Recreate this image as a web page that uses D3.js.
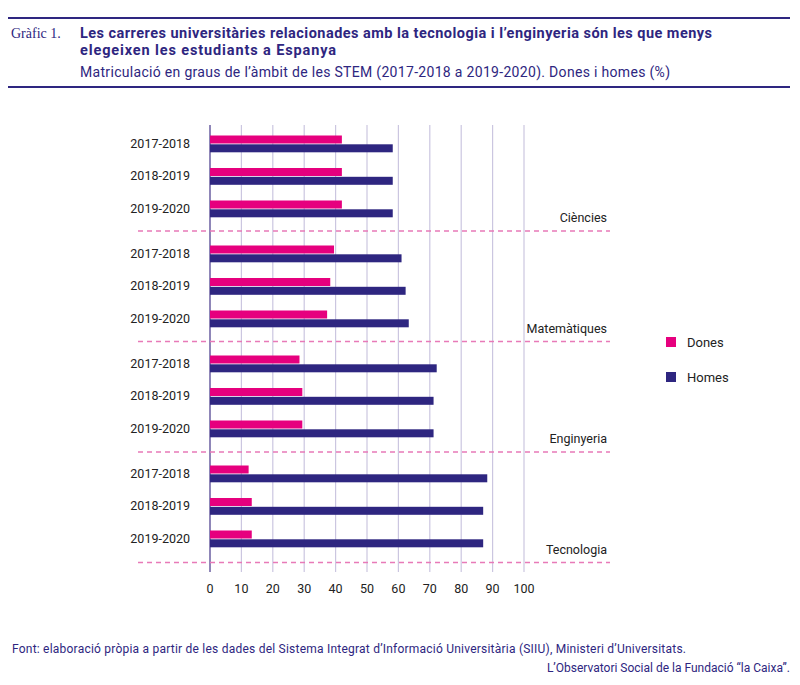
<!DOCTYPE html><html><head><meta charset="utf-8"><script src="https://d3js.org/d3.v7.min.js"></script>
<style>body{margin:0;background:#fff}</style></head><body><svg width="800" height="685"></svg>
<script>
const groups=["Ciències","Matemàtiques","Enginyeria","Tecnologia"];
const years=["2017-2018","2018-2019","2019-2020"];
const dones=[[42,42,42],[39.5,38.3,37.3],[28.5,29.4,29.4],[12.3,13.3,13.3]];
const homes=[[58.2,58.2,58.2],[61,62.3,63.3],[72.2,71.2,71.2],[88.3,87,87]];
const ticks=[0,10,20,30,40,50,60,70,80,90,100];
const purple="#2e2680",pink="#e6007e";
const svg=d3.select("svg");
const x=d3.scaleLinear().domain([0,100]).range([210,524]);
const F="Roboto,sans-serif";
svg.append("rect").attr("x",8).attr("y",17).attr("width",782).attr("height",2).attr("fill",purple);
svg.append("rect").attr("x",8).attr("y",86).attr("width",782).attr("height",2).attr("fill",purple);
svg.append("text").attr("x",11).attr("y",38).attr("font-family","Liberation Serif,serif").attr("font-size",14).attr("fill",purple).text("Gràfic 1.");
svg.append("text").attr("x",80).attr("y",38).attr("font-size",14.5).attr("font-weight","bold").attr("fill",purple).attr("font-family",F).attr("textLength",632).text("Les carreres universitàries relacionades amb la tecnologia i l’enginyeria són les que menys");
svg.append("text").attr("x",80).attr("y",55).attr("font-size",14.5).attr("font-weight","bold").attr("fill",purple).attr("font-family",F).attr("textLength",256).text("elegeixen les estudiants a Espanya");
svg.append("text").attr("x",80).attr("y",77).attr("font-size",14).attr("fill",purple).attr("font-family",F).attr("textLength",590).text("Matriculació en graus de l’àmbit de les STEM (2017-2018 a 2019-2020). Dones i homes (%)");
ticks.forEach(t=>{svg.append("line").attr("x1",x(t)).attr("x2",x(t)).attr("y1",125).attr("y2",572).attr("stroke",t===0?"#8f86b8":"#cbc6e0").attr("stroke-width",t===0?2:1.2);
svg.append("text").attr("x",x(t)).attr("y",593).attr("text-anchor","middle").attr("font-size",12.5).attr("font-family",F).attr("fill","#222").text(t);});
const rowY=(g,i)=>143.5+g*110+i*32.5;
groups.forEach((gn,g)=>{
 years.forEach((yr,i)=>{const cy=rowY(g,i);
  svg.append("text").attr("x",190).attr("y",cy+4).attr("text-anchor","end").attr("font-size",12.5).attr("font-family",F).attr("fill","#222").text(yr);
  svg.append("rect").attr("x",x(0)).attr("y",cy-8).attr("width",x(dones[g][i])-x(0)).attr("height",8).attr("fill",pink);
  svg.append("rect").attr("x",x(0)).attr("y",cy+0.8).attr("width",x(homes[g][i])-x(0)).attr("height",8).attr("fill",purple);
 });
 const ly=231+g*110.5;
 svg.append("line").attr("x1",138).attr("x2",610).attr("y1",ly).attr("y2",ly).attr("stroke","#e87ab8").attr("stroke-width",1.5).attr("stroke-dasharray","5,4");
 svg.append("text").attr("x",607).attr("y",ly-9).attr("text-anchor","end").attr("font-size",12.5).attr("font-family",F).attr("fill","#222").text(gn);
});
[["Dones",pink,343],["Homes",purple,378]].forEach(([l,c,y])=>{svg.append("rect").attr("x",666).attr("y",y-6).attr("width",10).attr("height",10).attr("fill",c);
 svg.append("text").attr("x",687).attr("y",y+4).attr("font-size",13).attr("font-family",F).attr("fill","#222").text(l);});
svg.append("text").attr("x",12).attr("y",653).attr("font-size",12).attr("font-family",F).attr("fill",purple).attr("textLength",674).text("Font: elaboració pròpia a partir de les dades del Sistema Integrat d’Informació Universitària (SIIU), Ministeri d’Universitats.");
svg.append("text").attr("x",790).attr("y",672).attr("text-anchor","end").attr("font-size",12).attr("font-family",F).attr("fill",purple).text("L’Observatori Social de la Fundació “la Caixa”.");
</script></body></html>
